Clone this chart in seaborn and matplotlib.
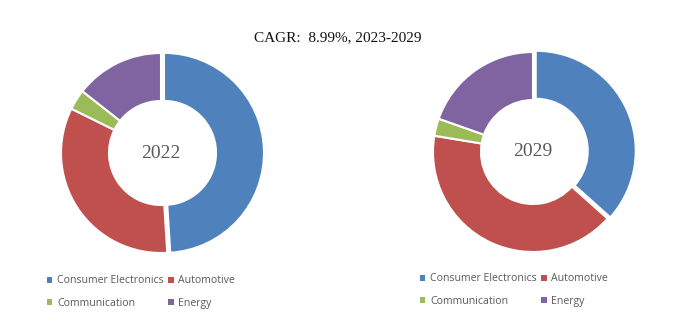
import matplotlib
matplotlib.use("Agg")
import matplotlib.pyplot as plt
import seaborn as sns
from matplotlib.patches import Patch

categories = ["Consumer Electronics", "Automotive", "Communication", "Energy"]
share_2022 = [49.0, 33.3, 3.3, 14.4]
share_2029 = [36.6, 41.0, 2.8, 19.6]
years = ["2022", "2029"]
title = "CAGR:  8.99%, 2023-2029"

sns.set_theme(style="white")
colors = ["#4F81BD", "#C0504D", "#9BBB59", "#8064A2"]
palette = sns.color_palette(colors)

W, H = 697, 322
fig = plt.figure(figsize=(W / 100, H / 100), dpi=100)
fig.patch.set_facecolor("white")

def add_donut(cx, cy, r, values, label):
    ax = fig.add_axes([(cx - r) / W, (H - cy - r) / H, 2 * r / W, 2 * r / H])
    ax.pie(values, colors=palette, startangle=90, counterclock=False,
           explode=[0.03, 0, 0, 0], radius=1.0,
           wedgeprops=dict(width=0.48, edgecolor="white", linewidth=1.5))
    ax.set_xlim(-1, 1)
    ax.set_ylim(-1, 1)
    ax.set_aspect("equal")
    ax.axis("off")
    ax.text(0, 0, label, ha="center", va="center", fontsize=14,
            color="#595959", family="Liberation Serif")
    return ax

add_donut(161, 153, 100, share_2022, years[0])
add_donut(533, 152, 100, share_2029, years[1])

fig.text(338 / W, 1 - 38 / H, title, ha="center", va="center",
         fontsize=11, family="Liberation Serif", color="#111111")

order = [0, 2, 1, 3]
handles = [Patch(facecolor=colors[i], edgecolor="none") for i in order]
labels = [categories[i] for i in order]
for x0, y0 in [(47, 292), (420, 290)]:
    fig.legend(handles, labels, ncol=2, loc="center left",
               bbox_to_anchor=(x0 / W, 1 - y0 / H), frameon=False,
               handlelength=0.5, handleheight=0.5,
               handletextpad=0.45, columnspacing=0.45, labelspacing=1.05,
               borderaxespad=0, borderpad=0, labelcolor="#595959",
               prop={"family": "Open Sans", "size": 7.6})

fig.savefig("out.png", dpi=100, facecolor="white")
